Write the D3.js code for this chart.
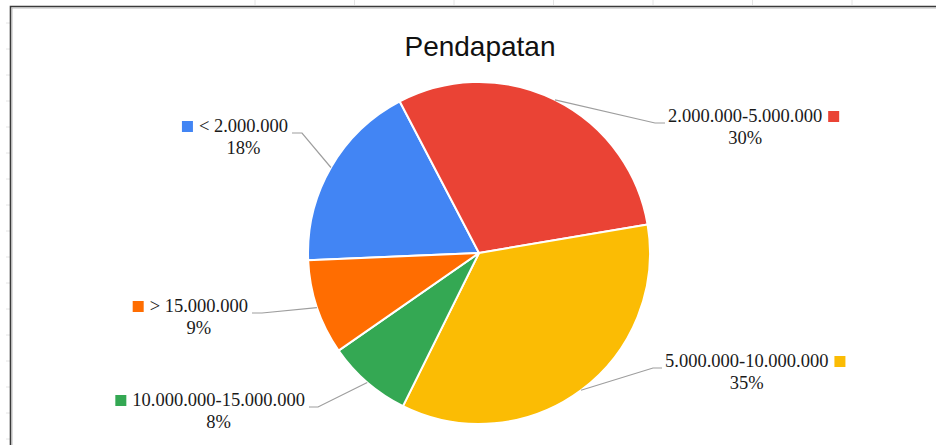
<!DOCTYPE html>
<html>
<head>
<meta charset="utf-8">
<script src="https://cdn.jsdelivr.net/npm/d3@7"></script>
<style>
  html, body { margin: 0; padding: 0; background: #fff; }
  svg { display: block; }
</style>
</head>
<body>
<svg id="chart" width="936" height="445"></svg>
<script>
// ---- data ----
const title = "Pendapatan";
const categories = ["< 2.000.000", "2.000.000-5.000.000", "5.000.000-10.000.000", "10.000.000-15.000.000", "> 15.000.000"];
const values = [18, 30, 35, 8, 9];
const percentLabels = ["18%", "30%", "35%", "8%", "9%"];
const colors = ["#4285F4", "#EA4335", "#FBBC04", "#34A853", "#FF6D01"];

// ---- layout ----
const W = 936, H = 445;
const cx = 479, cy = 253, R = 171;
const startDeg = -92.4;
// label placement: side, anchor x (text end for left, text start for right), baseline y
const labelLayout = [
  { side: "left",  x: 288, y: 132, elbow: 302 },
  { side: "right", x: 668, y: 122, elbow: 655 },
  { side: "right", x: 665, y: 367, elbow: 653 },
  { side: "left",  x: 305, y: 406, elbow: 318 },
  { side: "left",  x: 248, y: 312, elbow: 262 }
];

const svg = d3.select("#chart");

// spreadsheet frame
const frame = svg.append("g");
frame.selectAll("line.vt").data(d3.range(255, W, 99.5)).join("line")
  .attr("x1", d => d).attr("x2", d => d).attr("y1", 0).attr("y2", 5)
  .attr("stroke", "#e4e4e4").attr("stroke-width", 1);
frame.selectAll("line.hz").data(d3.range(23, H, 26)).join("line")
  .attr("x1", 6).attr("x2", 10).attr("y1", d => d).attr("y2", d => d)
  .attr("stroke", "#e4e4e4").attr("stroke-width", 1);
frame.append("path").attr("d", `M10.5,${H} V6.5 H${W}`)
  .attr("fill", "none").attr("stroke", "#3a3a3a").attr("stroke-width", 1.6);
frame.append("path").attr("d", `M12,${H} V8 H${W}`)
  .attr("fill", "none").attr("stroke", "#aaaaaa").attr("stroke-width", 0.8);

// title
svg.append("text")
  .attr("x", 480).attr("y", 56)
  .attr("text-anchor", "middle")
  .attr("font-family", "'Liberation Sans', Arial, sans-serif")
  .attr("font-size", 28)
  .attr("fill", "#111")
  .text(title);

// pie
const pie = d3.pie().sort(null).value(d => d)
  .startAngle(startDeg * Math.PI / 180)
  .endAngle(startDeg * Math.PI / 180 + 2 * Math.PI);
const arcs = pie(values);
const arc = d3.arc().innerRadius(0).outerRadius(R);

const g = svg.append("g").attr("transform", `translate(${cx},${cy})`);
g.selectAll("path").data(arcs).join("path")
  .attr("d", arc)
  .attr("fill", (d, i) => colors[i])
  .attr("stroke", "#fff")
  .attr("stroke-width", 2)
  .attr("stroke-linejoin", "round");

// leader lines + labels
const labels = svg.append("g")
  .attr("font-family", "'Liberation Serif', 'Times New Roman', serif")
  .attr("font-size", 18.5)
  .attr("fill", "#1a1a1a");

arcs.forEach((a, i) => {
  const L = labelLayout[i];
  const mid = (a.startAngle + a.endAngle) / 2;
  const px = cx + R * Math.sin(mid), py = cy - R * Math.cos(mid);
  const ly = L.y + 1;
  const lineEnd = L.side === "left" ? L.x + 4 : L.x - 3;
  svg.append("polyline")
    .attr("points", `${px},${py} ${L.elbow},${ly} ${lineEnd},${ly}`)
    .attr("fill", "none").attr("stroke", "#9e9e9e").attr("stroke-width", 1.2);

  const t = labels.append("text")
    .attr("x", L.x).attr("y", L.y)
    .attr("text-anchor", L.side === "left" ? "end" : "start")
    .text(categories[i]);
  const w = t.node().getComputedTextLength();
  const textStart = L.side === "left" ? L.x - w : L.x;
  const textCenter = textStart + w / 2;
  const sq = 11, gap = 6;
  const sqX = L.side === "left" ? textStart - gap - sq : textStart + w + gap;
  labels.append("rect")
    .attr("x", sqX).attr("y", L.y - sq).attr("width", sq).attr("height", sq)
    .attr("fill", colors[i]);
  labels.append("text")
    .attr("x", textCenter).attr("y", L.y + 22)
    .attr("text-anchor", "middle")
    .text(percentLabels[i]);
});
</script>
</body>
</html>
